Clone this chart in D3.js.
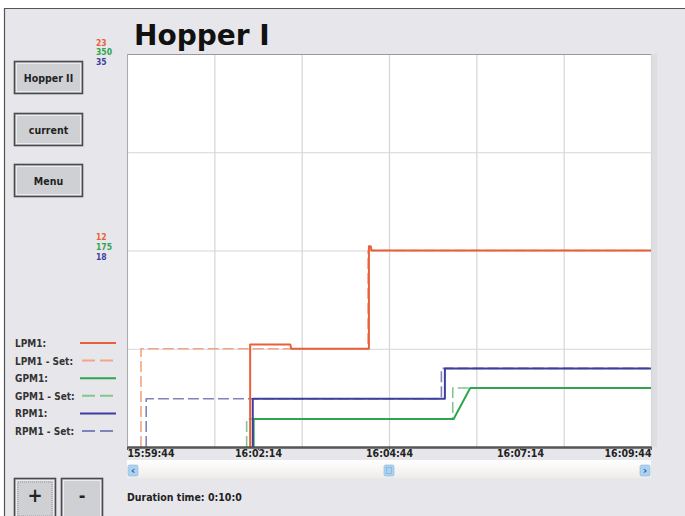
<!DOCTYPE html>
<html>
<head>
<meta charset="utf-8">
<script src="https://cdn.jsdelivr.net/npm/d3@7"></script>
<style>
  body { margin: 0; background: #fff; }
  svg { display: block; }
  .lbl { font-family: "Liberation Sans Narrow", "Arial Narrow", "DejaVu Sans Condensed", sans-serif; font-weight: bold; }
</style>
</head>
<body>
<div id="container"><svg></svg></div>
<script>
let width = 685, height = 516;

// chart data (time as HH:MM:SS, values per series)
let timeStart = '15:59:44', timeEnd = '16:09:44';
let tickTimes = ['15:59:44', '16:02:14', '16:04:44', '16:07:14', '16:09:44'];

let lpmTimes    = ['16:02:05', '16:02:05', '16:02:51', '16:02:52', '16:04:21', '16:04:21', '16:04:23', '16:04:24', '16:09:44'];
let lpmValues   = [0, 6, 6, 5.75, 5.75, 11.75, 11.75, 11.5, 11.5];
let lpmSetTimes = ['16:00:00', '16:00:00', '16:04:20', '16:04:20', '16:09:44'];
let lpmSetValues = [0, 5.75, 5.75, 11.5, 11.5];

let gpmTimes    = ['16:02:09', '16:02:09', '16:05:58', '16:06:17', '16:09:44'];
let gpmValues   = [0, 25, 25, 52.5, 52.5];
let gpmSetTimes = ['16:02:01', '16:02:01', '16:05:57', '16:05:57', '16:09:44'];
let gpmSetValues = [0, 25, 25, 52.5, 52.5];

let rpmTimes    = ['16:02:08', '16:02:08', '16:05:48', '16:05:48', '16:09:44'];
let rpmValues   = [0, 4.3, 4.3, 7, 7];
let rpmSetTimes = ['16:00:06', '16:00:06', '16:05:44', '16:05:44', '16:09:44'];
let rpmSetValues = [0, 4.3, 4.3, 7, 7];

let axisMax = [23, 350, 35];     // LPM, GPM, RPM
let axisMid = [12, 175, 18];
let legendNames = ['LPM1:', 'LPM1 - Set:', 'GPM1:', 'GPM1 - Set:', 'RPM1:', 'RPM1 - Set:'];
let buttonNames = ['Hopper II', 'current', 'Menu'];

let colRed = '#e8603a', colRedSet = '#f2a585';
let colGreen = '#2ea54e', colGreenSet = '#80c690';
let colBlue = '#3d3f9e', colBlueSet = '#8082bc';

let lmargin = 127, rmargin = 651, umargin = 54, dmargin = 447;

let parse = d3.timeParse('%H:%M:%S');

let svg = d3.select('#container').select('svg')
    .attr('width', width)
    .attr('height', height);

// panel background and frame
svg.append('rect').attr('x', 4).attr('y', 8).attr('width', width - 4).attr('height', height - 8)
    .attr('fill', '#e7e7eb');
svg.append('line').attr('x1', 4).attr('y1', 8.5).attr('x2', width).attr('y2', 8.5).attr('stroke', '#555').attr('stroke-width', 1.2);
svg.append('line').attr('x1', 4.5).attr('y1', 8).attr('x2', 4.5).attr('y2', height).attr('stroke', '#555').attr('stroke-width', 1.2);

// title
svg.append('text').attr('x', 134).attr('y', 45)
    .attr('font-family', 'DejaVu Sans, sans-serif').attr('font-weight', 'bold').attr('font-size', 28)
    .attr('fill', '#111').text('Hopper I');

// scales
let x = d3.scaleTime().domain([parse(timeStart), parse(timeEnd)]).range([lmargin, rmargin]);
let yL = d3.scaleLinear().domain([0, axisMax[0]]).range([dmargin, umargin]);
let yG = d3.scaleLinear().domain([0, axisMax[1]]).range([dmargin, umargin]);
let yR = d3.scaleLinear().domain([0, axisMax[2]]).range([dmargin, umargin]);
let yGrid = d3.scaleLinear().domain([0, 4]).range([dmargin, umargin]);

// plot area
svg.append('rect').attr('x', lmargin).attr('y', umargin).attr('width', rmargin - lmargin).attr('height', dmargin - umargin)
    .attr('fill', '#fff');
svg.append('rect').attr('x', rmargin).attr('y', umargin).attr('width', 6).attr('height', dmargin - umargin)
    .attr('fill', '#dedee2');

// grid
let gridT = d3.range(7).map(i => new Date(parse(timeStart).getTime() + i * 100000));
svg.append('g').selectAll('line').data(gridT).join('line')
    .attr('x1', d => x(d) + 0.5).attr('x2', d => x(d) + 0.5)
    .attr('y1', umargin).attr('y2', dmargin)
    .attr('stroke', '#d6d6d6').attr('stroke-width', 1.2);
svg.append('g').selectAll('line').data(d3.range(5)).join('line')
    .attr('x1', lmargin).attr('x2', rmargin)
    .attr('y1', d => yGrid(d) + 0.5).attr('y2', d => yGrid(d) + 0.5)
    .attr('stroke', '#d6d6d6').attr('stroke-width', 1.2);
svg.append('line').attr('x1', lmargin).attr('x2', rmargin).attr('y1', umargin + 0.5).attr('y2', umargin + 0.5)
    .attr('stroke', '#999');
svg.append('line').attr('x1', lmargin + 0.5).attr('x2', lmargin + 0.5).attr('y1', umargin).attr('y2', dmargin)
    .attr('stroke', '#aaa');

// y axis labels (three scales)
let axisCols = [colRed, colGreen, colBlue];
[[axisMax, 4, [-11, -2, 8]], [axisMid, 2, [-13, -3, 7]]].forEach(([vals, gi, offs]) => {
    svg.append('g').selectAll('text').data(vals).join('text')
        .attr('class', 'lbl')
        .attr('x', 96).attr('y', (d, i) => yGrid(gi) + offs[i])
        .attr('dominant-baseline', 'middle')
        .attr('font-size', 8.5)
        .attr('fill', (d, i) => axisCols[i])
        .text(d => d);
});

// series
function series(times, values) {
    return times.map((t, i) => ({t: parse(t), v: values[i]}));
}
let seriesList = [
    {data: series(lpmSetTimes, lpmSetValues), y: yL, col: colRedSet, dash: '11,4', w: 1.6},
    {data: series(gpmSetTimes, gpmSetValues), y: yG, col: colGreenSet, dash: '11,4', w: 1.6},
    {data: series(rpmSetTimes, rpmSetValues), y: yR, col: colBlueSet, dash: '11,4', w: 1.6},
    {data: series(gpmTimes, gpmValues), y: yG, col: colGreen, dash: null, w: 2},
    {data: series(rpmTimes, rpmValues), y: yR, col: colBlue, dash: null, w: 2},
    {data: series(lpmTimes, lpmValues), y: yL, col: colRed, dash: null, w: 2}
];
seriesList.forEach(s => {
    svg.append('path')
        .datum(s.data)
        .attr('fill', 'none')
        .attr('stroke', s.col)
        .attr('stroke-width', s.w)
        .attr('stroke-dasharray', s.dash)
        .attr('stroke-linejoin', 'round')
        .attr('d', d3.line().x(d => x(d.t)).y(d => s.y(d.v)));
});

// x axis
let xAxis = svg.append('g')
    .attr('transform', `translate(0,${dmargin})`)
    .call(d3.axisBottom(x).tickValues(tickTimes.map(parse)).tickFormat(d3.timeFormat('%H:%M:%S')).tickSize(3).tickSizeOuter(0));
xAxis.select('.domain').attr('stroke', '#555').attr('stroke-width', 2.5);
xAxis.selectAll('.tick line').attr('stroke', '#555');
xAxis.selectAll('.tick text')
    .attr('class', 'lbl').attr('font-size', 10.5).attr('fill', '#222').attr('dy', '0.4em')
    .attr('text-anchor', (d, i) => i == 0 ? 'start' : (i == tickTimes.length - 1 ? 'end' : 'middle'));

// scrollbar
let grad = svg.append('defs').append('linearGradient').attr('id', 'sb').attr('x1', 0).attr('x2', 0).attr('y1', 0).attr('y2', 1);
grad.append('stop').attr('offset', 0).attr('stop-color', '#ffffff');
grad.append('stop').attr('offset', 1).attr('stop-color', '#efedea');
svg.append('rect').attr('x', lmargin).attr('y', 460).attr('width', rmargin - lmargin).attr('height', 18).attr('fill', 'url(#sb)');
[[128, '‹'], [640, '›'], [384, '']].forEach(([bx, ch]) => {
    svg.append('rect').attr('x', bx).attr('y', 465).attr('width', 10).attr('height', 11).attr('rx', 1.5)
        .attr('fill', '#acd2f0').attr('stroke', '#8cbbe0').attr('stroke-width', 0.6);
    svg.append('text').attr('x', bx + 5).attr('y', 474).attr('text-anchor', 'middle')
        .attr('font-family', 'DejaVu Sans, sans-serif').attr('font-weight', 'bold').attr('font-size', 11)
        .attr('fill', '#2a64a8').text(ch);
});
svg.append('rect').attr('x', 386.5).attr('y', 467.5).attr('width', 5).attr('height', 6)
    .attr('fill', 'none').attr('stroke', '#7fb0da').attr('stroke-width', 0.7);

// legend
let legendCols = [colRed, colRedSet, colGreen, colGreenSet, colBlue, colBlueSet];
let legend = svg.append('g').selectAll('g').data(legendNames).join('g')
    .attr('transform', (d, i) => `translate(0,${343 + i * 17.6})`);
legend.append('text').attr('class', 'lbl').attr('x', 15).attr('y', 4)
    .attr('font-size', 10).attr('fill', '#333').text(d => d);
legend.append('line').attr('x1', (d, i) => i % 2 ? 82 : 80).attr('x2', 116).attr('y1', 0).attr('y2', 0)
    .attr('stroke', (d, i) => legendCols[i]).attr('stroke-width', 2)
    .attr('stroke-dasharray', (d, i) => i % 2 ? '13,5' : null);

// buttons
function button(bx, by, bw, bh, label, fs) {
    let g = svg.append('g');
    g.append('rect').attr('x', bx).attr('y', by).attr('width', bw).attr('height', bh)
        .attr('fill', '#cfd0d4').attr('stroke', '#4a4a4a').attr('stroke-width', 1.6);
    g.append('rect').attr('x', bx + 2).attr('y', by + 2).attr('width', bw - 4).attr('height', bh - 4)
        .attr('fill', 'none').attr('stroke', '#ececee').attr('stroke-width', 1);
    g.append('text').attr('class', 'lbl').attr('x', bx + bw / 2).attr('y', by + bh / 2)
        .attr('text-anchor', 'middle').attr('dominant-baseline', 'central')
        .attr('font-size', fs).attr('fill', '#222').text(label);
    return g;
}
buttonNames.forEach((b, i) => button(14.5, [61.5, 113.5, 164.5][i], 68, 32, b, 10.5));
let plus = button(14.5, 478.5, 41, 40, '+', 20);
plus.select('text').attr('y', 495).attr('font-family', 'DejaVu Sans, sans-serif');
plus.append('rect').attr('x', 18).attr('y', 482).attr('width', 34).attr('height', 34)
    .attr('fill', 'none').attr('stroke', '#777').attr('stroke-width', 0.6).attr('stroke-dasharray', '1,1');
let minus = button(61.5, 478.5, 41, 40, '-', 18);
minus.select('text').attr('y', 495).attr('font-family', 'DejaVu Sans, sans-serif');

svg.append('text').attr('class', 'lbl').attr('x', 127).attr('y', 501)
    .attr('font-size', 10.5).attr('fill', '#222').text('Duration time: 0:10:0');
</script>
</body>
</html>
